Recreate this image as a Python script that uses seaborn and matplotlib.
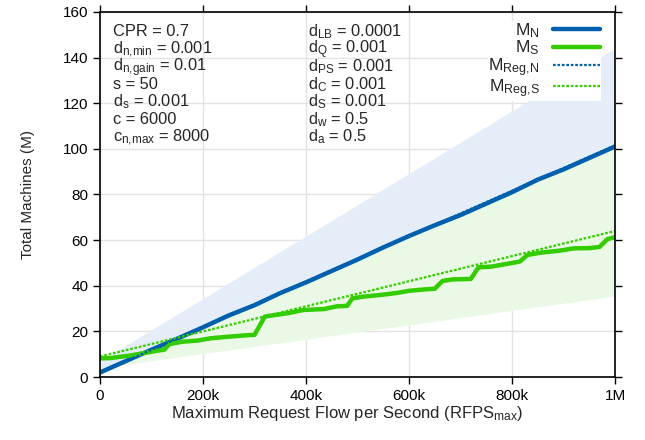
import numpy as np
import pandas as pd
import matplotlib
matplotlib.use("Agg")
import matplotlib.pyplot as plt
import matplotlib._mathtext as mathtext_internal
import seaborn as sns

# request flow in thousands of RFPS
flow_k = [0, 50, 100, 150, 200, 250, 300, 350, 400, 450, 500,
          550, 600, 650, 700, 750, 800, 850, 900, 950, 1000]
m_n = [2.0, 7.0, 12.0, 16.8, 21.8, 27.0, 31.5, 36.8, 41.5, 46.5, 51.5,
       56.8, 61.8, 66.5, 71.0, 76.0, 81.0, 86.5, 91.0, 96.0, 101.0]

ms_flow_k = [0, 20, 60, 110, 125, 135, 160, 190, 215, 250, 290, 300, 310, 320, 340,
             365, 395, 435, 460, 480, 490, 510, 545, 575, 600, 635, 650, 665, 685,
             720, 735, 760, 790, 815, 830, 855, 890, 920, 950, 970, 985, 1000]
m_s = [8.2, 8.3, 9.5, 11.5, 12.0, 14.5, 15.5, 16.0, 17.0, 17.7, 18.4, 18.5, 22.5, 26.5, 27.2,
       28.0, 29.4, 29.8, 31.0, 31.2, 34.5, 35.2, 36.0, 36.8, 37.8, 38.5, 38.7, 42.1, 42.8,
       43.0, 48.1, 48.4, 49.6, 50.6, 53.5, 54.5, 55.3, 56.4, 56.5, 57.0, 60.4, 61.3]

reg_flow_k = [0, 1000]
m_reg_n = [2.0, 101.5]
m_reg_s = [9.0, 64.0]
band_n_upper = [7.0, 144.0]
band_s_lower = [4.0, 35.5]

x_ticks_k = [0, 200, 400, 600, 800, 1000]
x_tick_labels = ["0", "200k", "400k", "600k", "800k", "1M"]

params_left = [r"CPR = 0.7", r"d$_{\rm n{,}min}$ = 0.001", r"d$_{\rm n{,}gain}$ = 0.01",
               r"s = 50", r"d$_{\rm s}$ = 0.001", r"c = 6000", r"c$_{\rm n{,}max}$ = 8000"]
params_right = [r"d$_{\rm LB}$ = 0.0001", r"d$_{\rm Q}$ = 0.001", r"d$_{\rm PS}$ = 0.001",
                r"d$_{\rm C}$ = 0.001", r"d$_{\rm S}$ = 0.001", r"d$_{\rm w}$ = 0.5",
                r"d$_{\rm a}$ = 0.5"]

blue = "#0060ad"
green = "#33cc00"

# subscripts in the original are a bit larger than mathtext's default
mathtext_internal.SHRINK_FACTOR = 0.72

sns.set_theme(style="ticks")
plt.rcParams["font.family"] = ["Liberation Sans", "DejaVu Sans"]
plt.rcParams["mathtext.fontset"] = "custom"
plt.rcParams["mathtext.rm"] = "Liberation Sans"
plt.rcParams["mathtext.it"] = "Liberation Sans"
plt.rcParams["mathtext.default"] = "regular"

fig = plt.figure(figsize=(6.45, 4.4), dpi=100)
ax = fig.add_axes([0.155, 0.143, 0.7985, 0.83])

ax.grid(True, color="#e3e3e3", linewidth=1.0, zorder=0)
ax.set_axisbelow(True)

ax.fill_between(reg_flow_k, m_reg_n, band_n_upper, color="#e5eef8", linewidth=0, zorder=1)
ax.fill_between(reg_flow_k, band_s_lower, m_reg_n, color="#eaf9e5", linewidth=0, zorder=1)

df_n = pd.DataFrame({"flow": flow_k, "machines": m_n})
df_s = pd.DataFrame({"flow": ms_flow_k, "machines": m_s})
sns.lineplot(data=df_n, x="flow", y="machines", color=blue, linewidth=3.2,
             label=r"M$_{\rm N}$", ax=ax, zorder=4)
sns.lineplot(data=df_s, x="flow", y="machines", color=green, linewidth=3.2,
             label=r"M$_{\rm S}$", ax=ax, zorder=4)
sns.lineplot(x=reg_flow_k, y=m_reg_n, color=blue, linewidth=1.6, linestyle=(0, (1.2, 0.8)),
             label=r"M$_{\rm Reg{,}N}$", ax=ax, zorder=5)
sns.lineplot(x=reg_flow_k, y=m_reg_s, color=green, linewidth=1.6, linestyle=(0, (1.2, 0.8)),
             label=r"M$_{\rm Reg{,}S}$", ax=ax, zorder=5)

ax.set_xlim(0, 1000)
ax.set_ylim(0, 160)
ax.set_xticks(x_ticks_k)
ax.set_xticklabels(x_tick_labels)
ax.set_yticks(range(0, 161, 20))
ax.tick_params(axis="both", direction="out", length=5, width=1, labelsize=11,
               top=True, right=True, colors="black")
for s in ax.spines.values():
    s.set_color("black")
    s.set_linewidth(1.2)
    s.set_zorder(9)

ax.set_xlabel(r"Maximum Request Flow per Second (RFPS$_{\rm max}$)", fontsize=12, labelpad=3)
ax.xaxis.set_label_coords(0.48, -0.075)
ax.set_ylabel("Total Machines (M)", fontsize=11, labelpad=20)

row_step = 17.6 / 365
for i, txt in enumerate(params_left):
    ax.text(0.026, 0.934 - i * row_step, txt, transform=ax.transAxes, fontsize=11.8,
            va="baseline", ha="left", zorder=7)
for i, txt in enumerate(params_right):
    ax.text(0.404, 0.934 - i * row_step, txt, transform=ax.transAxes, fontsize=11.8,
            va="baseline", ha="left", zorder=7)

leg = ax.legend(loc="upper right", bbox_to_anchor=(0.99, 1.0), markerfirst=False,
                fontsize=12.5, handlelength=2.7, handletextpad=0.8, labelspacing=-0.08,
                borderpad=0.05, frameon=True, fancybox=False, framealpha=1.0,
                edgecolor="none", facecolor="white")
leg.set_zorder(8)

fig.savefig("out.png", dpi=100)
